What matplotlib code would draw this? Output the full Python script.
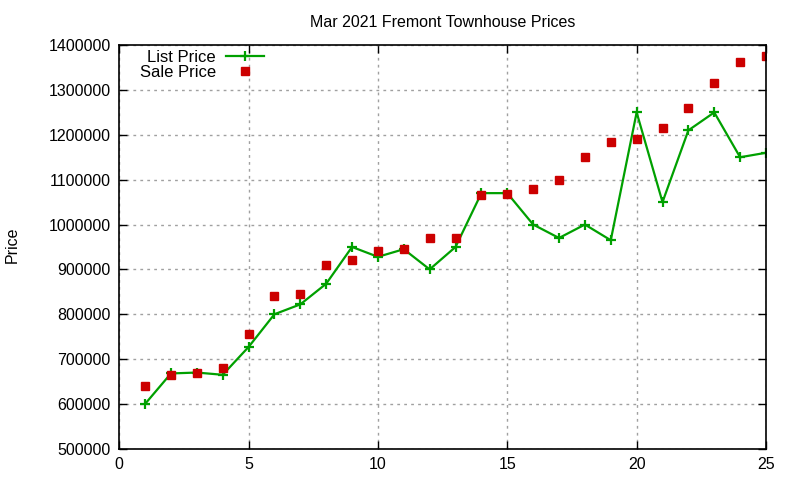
import matplotlib
matplotlib.use('Agg')
import matplotlib.pyplot as plt

# Day of month and prices
DAYS = list(range(1, 26))
LIST_PRICE = [600000, 668000, 670000, 665000, 727000, 800000, 822000, 868000,
              950000, 928000, 945000, 900000, 950000, 1070000, 1070000,
              1000000, 970000, 1000000, 965000, 1250000, 1050000, 1210000,
              1250000, 1150000, 1160000]
SALE_PRICE = [641000, 665000, 669000, 680000, 756000, 840000, 845000, 910000,
              920000, 940000, 945000, 970000, 970000, 1065000, 1068000,
              1080000, 1100000, 1150000, 1185000, 1190000, 1215000, 1260000,
              1315000, 1362000, 1375000]
Y_TICKS = list(range(500000, 1400001, 100000))
X_TICKS = [0, 5, 10, 15, 20, 25]

plt.rcParams['font.family'] = ['Liberation Sans', 'DejaVu Sans']
plt.rcParams['font.size'] = 11.5

fig = plt.figure(figsize=(8, 4.8), dpi=100)
ax = fig.add_axes([0.149, 0.065, 0.8085, 0.841])

ax.plot(DAYS, LIST_PRICE, color='#00a000', lw=1.6, marker='+', ms=7.5, mew=1.6,
        label='List Price')
ax.plot(DAYS, SALE_PRICE, ls='none', color='#cc0000', marker='s', ms=6,
        label='Sale Price')

ax.set_xlim(0, 25)
ax.set_ylim(500000, 1400000)
ax.set_xticks(X_TICKS)
ax.set_yticks(Y_TICKS)
ax.set_yticklabels([str(v) for v in Y_TICKS])
ax.tick_params(direction='in', top=True, right=True, length=6, width=1,
               pad=6, labelsize=11.5)
ax.grid(True, color='#a0a0a0', ls=(0, (2, 3)), lw=1)
for s in ax.spines.values():
    s.set_linewidth(1.2)

ax.set_title('Mar 2021 Fremont Townhouse Prices', fontsize=11.5, pad=13)
fig.text(0.015, 0.49, 'Price', rotation=90, va='center', ha='center',
         fontsize=11.5)

# gnuplot-style key: right-aligned text followed by the sample
leg = ax.legend(loc='upper left', bbox_to_anchor=(0.014, 1.018), frameon=False,
                markerfirst=False, handlelength=2.3, handletextpad=0.6,
                labelspacing=0.0, borderaxespad=0.3, fontsize=12)
for t in leg.get_texts():
    t.set_ha('right')
leg._legend_box.align = 'right'

fig.savefig('out.png', dpi=100)
plt.close(fig)
